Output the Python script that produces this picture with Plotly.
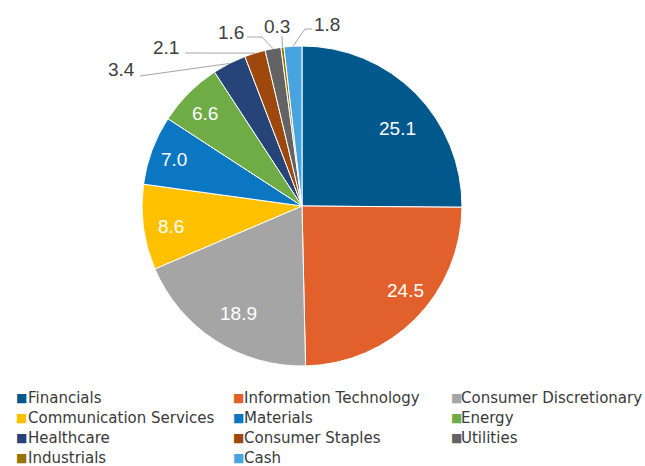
import math
import plotly.graph_objects as go

# Sector weights (%)
sectors = ["Financials", "Information Technology", "Consumer Discretionary",
           "Communication Services", "Materials", "Energy", "Healthcare",
           "Consumer Staples", "Utilities", "Industrials", "Cash"]
weights = [25.1, 24.5, 18.9, 8.6, 7.0, 6.6, 3.4, 2.1, 1.6, 0.3, 1.8]
colors = ["#00588D", "#E2602B", "#A5A5A5", "#FFC000", "#0B77C2", "#6FAC46",
          "#264478", "#9E480E", "#636363", "#997300", "#47A4DE"]

W, H = 645, 466
CX, CY, R = 302, 206, 160  # pie centre and radius in pixels


def px(x):
    return x / W


def py(y):
    return 1 - y / H


fig = go.Figure(go.Pie(
    labels=sectors,
    values=weights,
    sort=False,
    direction="clockwise",
    rotation=0,
    marker=dict(colors=colors, line=dict(color="white", width=1)),
    textinfo="none",
    domain=dict(x=[px(CX - R), px(CX + R)], y=[py(CY + R), py(CY - R)]),
    showlegend=False,
    hoverinfo="label+value",
))

# Data-label placement (pixel coords). Inside labels carry only a text
# position; outside labels also get a leader line whose final point is the
# slice edge at the slice's mid-angle.
label_layout = {
    "Financials": dict(text=(397, 128)),
    "Information Technology": dict(text=(405, 290)),
    "Consumer Discretionary": dict(text=(238, 313)),
    "Communication Services": dict(text=(171, 226)),
    "Materials": dict(text=(174, 159)),
    "Energy": dict(text=(205, 113)),
    "Healthcare": dict(text=(121, 69), path=[(140, 76)]),
    "Consumer Staples": dict(text=(166, 48), path=[(185, 53)]),
    "Utilities": dict(text=(231, 32), path=[(247, 37), (262, 37)]),
    "Industrials": dict(text=(277, 27), path=[(282, 36)]),
    "Cash": dict(text=(327, 24), path=[(312, 29), (305, 29)]),
}

total = sum(weights)
cum = 0.0
annotations = []
shapes = []
for name, val in zip(sectors, weights):
    mid = (cum + val / 2) / total * 2 * math.pi
    cum += val
    lay = label_layout[name]
    outside = "path" in lay
    if outside:
        ex = CX + R * math.sin(mid)
        ey = CY - R * math.cos(mid)
        pts = lay["path"] + [(ex, ey)]
        d = "M " + " L ".join(f"{px(x):.5f},{py(y):.5f}" for x, y in pts)
        shapes.append(dict(type="path", xref="paper", yref="paper", path=d,
                           line=dict(color="#A6A6A6", width=1)))
    tx, ty = lay["text"]
    annotations.append(dict(
        x=px(tx), y=py(ty), xref="paper", yref="paper",
        text=f"{val:.1f}", showarrow=False, xanchor="center", yanchor="middle",
        font=dict(family="Liberation Sans, Arial", size=19,
                  color="#404040" if outside else "white"),
    ))

# Legend laid out as a 3-column grid
col_marker = [15, 232, 450]
col_text = [27, 243, 460]
row_y = [398, 418, 438, 458]
for i, (name, col) in enumerate(zip(sectors, colors)):
    r, c = divmod(i, 3)
    annotations.append(dict(
        x=px(col_marker[c] - 1), y=py(row_y[r]), xref="paper", yref="paper",
        text="■", showarrow=False, xanchor="left", yanchor="middle",
        font=dict(family="DejaVu Sans", size=12, color=col),
    ))
    annotations.append(dict(
        x=px(col_text[c] - 1), y=py(row_y[r]), xref="paper", yref="paper",
        text=name, showarrow=False, xanchor="left", yanchor="middle",
        font=dict(family="DejaVu Sans", size=15, color="#3A3A3A"),
    ))

fig.update_layout(
    width=W, height=H,
    margin=dict(l=0, r=0, t=0, b=0),
    paper_bgcolor="white",
    plot_bgcolor="white",
    annotations=annotations,
    shapes=shapes,
)

fig.write_html("out.html")
